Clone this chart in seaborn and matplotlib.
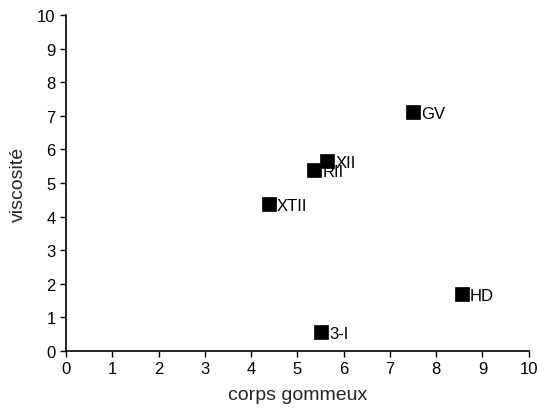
import pandas as pd
import matplotlib
matplotlib.use("Agg")
import matplotlib.pyplot as plt
import seaborn as sns

# values
labels = ["GV", "HD", "3-I", "XTII", "RII", "XII"]
corps_gommeux = [7.49, 8.55, 5.51, 4.38, 5.36, 5.64]
viscosite = [7.11, 1.70, 0.57, 4.38, 5.39, 5.65]

df = pd.DataFrame({"label": labels, "corps": corps_gommeux, "visc": viscosite})

sns.set_style("ticks")
plt.rcParams["font.family"] = ["Liberation Sans", "DejaVu Sans"]

fig = plt.figure(figsize=(5.39, 4.10), dpi=100)
ax = fig.add_axes([0.1225, 0.1415, 0.8585, 0.8195])

sns.scatterplot(data=df, x="corps", y="visc", marker="s", s=110,
                color="black", edgecolor="black", linewidth=0.5, ax=ax, zorder=3)

# labels sit just right of each marker (RII is partly hidden by XII, as in the source)
for _, row in df.iterrows():
    ax.annotate(row["label"], (row["corps"], row["visc"]), xytext=(6, -1),
                textcoords="offset points", ha="left", va="center",
                fontsize=12, color="black", zorder=4)

ax.set_xlim(0, 10)
ax.set_ylim(0, 10)
ax.set_xticks(range(0, 11))
ax.set_yticks(range(0, 11))
ax.tick_params(direction="out", length=4, width=1, labelsize=12, colors="black")
for s in ["top", "right"]:
    ax.spines[s].set_visible(False)
for s in ["left", "bottom"]:
    ax.spines[s].set_color("black")
    ax.spines[s].set_linewidth(1.2)

ax.set_xlabel("corps gommeux", fontsize=14, labelpad=7)
ax.set_ylabel("viscosité", fontsize=14, labelpad=7)

fig.savefig("out.png", dpi=100)
